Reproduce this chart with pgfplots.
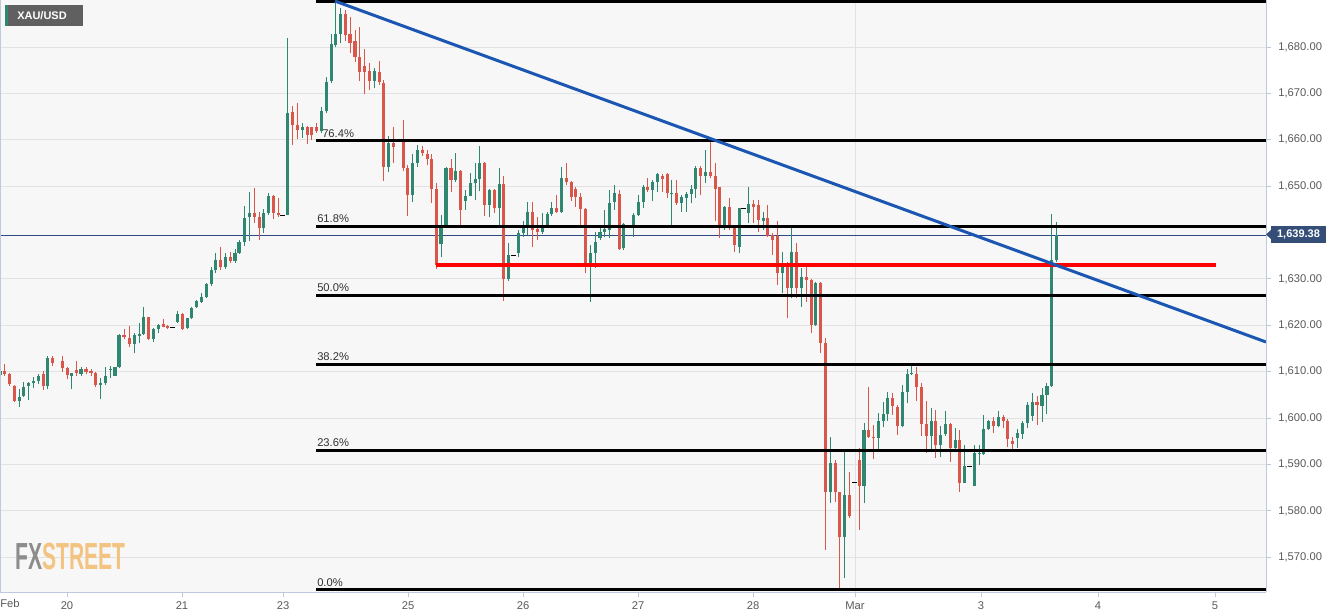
\documentclass[border=0pt]{standalone}
\usepackage{fontspec}
\setmainfont{Liberation Sans}
\usepackage{pgfplots}
\usepackage{pgfplotstable}
\pgfplotsset{compat=1.18}
\definecolor{cg}{RGB}{48,135,113}
\definecolor{cr}{RGB}{217,87,74}
\definecolor{plotbg}{RGB}{247,247,247}
\definecolor{gridc}{RGB}{226,226,226}
\definecolor{axc}{RGB}{190,200,222}
\definecolor{labc}{RGB}{90,90,90}
\definecolor{pricec}{RGB}{45,75,130}
\definecolor{pricebox}{RGB}{52,78,120}
\definecolor{trendc}{RGB}{26,86,178}
\definecolor{fibtext}{RGB}{50,50,50}
\definecolor{titlebox}{RGB}{96,96,96}
\definecolor{wmgray}{RGB}{140,140,140}
\definecolor{wmorange}{RGB}{243,195,130}

\pgfplotstableread{
x o h l c
0.7 1609.3 1611.3 1608.6 1610.2
19.3 1603.7 1606.2 1602.5 1604.6
23.3 1604.8 1607.9 1604.5 1606.8
28.3 1606.9 1607.9 1603.9 1607.5
33.3 1607.5 1608.9 1606.4 1608.0
38.3 1608.0 1609.5 1607.3 1609.2
47.7 1606.9 1613.3 1606.2 1613.0
71.7 1609.2 1609.8 1606.2 1609.7
81.0 1609.5 1611.1 1609.0 1610.5
100.3 1607.2 1608.6 1604.1 1607.5
105.3 1607.5 1611.0 1607.2 1609.2
110.3 1610.4 1611.3 1608.6 1610.5
115.0 1609.2 1611.1 1609.0 1611.0
119.0 1611.0 1618.1 1610.8 1617.9
134.3 1616.0 1618.3 1614.0 1617.9
139.3 1617.8 1620.5 1616.1 1618.1
143.3 1618.2 1623.9 1617.9 1621.8
153.3 1617.1 1619.5 1616.5 1619.2
158.3 1619.2 1620.3 1618.3 1620.1
177.3 1620.8 1623.0 1620.5 1622.5
187.3 1619.5 1621.7 1619.3 1621.5
191.7 1621.5 1624.0 1621.3 1623.8
196.7 1623.9 1625.5 1623.7 1625.3
201.3 1625.1 1626.9 1624.8 1626.2
206.3 1626.2 1629.2 1625.8 1629.0
211.3 1629.0 1632.5 1628.5 1632.0
215.3 1632.0 1635.5 1631.4 1634.0
225.3 1632.5 1635.5 1632.2 1634.8
235.0 1633.9 1636.5 1633.5 1635.6
239.0 1635.6 1638.4 1635.4 1637.9
244.3 1637.9 1645.8 1637.1 1643.2
249.3 1643.3 1648.7 1638.1 1644.3
263.7 1640.9 1645.1 1639.9 1644.2
268.3 1644.2 1648.6 1643.8 1647.8
287.3 1643.7 1681.9 1643.7 1665.7
302.3 1662.1 1663.6 1660.4 1662.8
321.3 1662.0 1667.0 1661.5 1666.2
326.3 1666.2 1673.6 1665.7 1672.5
331.3 1672.7 1682.9 1672.2 1680.6
335.7 1680.4 1689.8 1680.1 1682.9
340.7 1682.9 1688.3 1680.8 1687.1
374.3 1672.7 1675.4 1671.1 1674.9
388.3 1654.2 1660.8 1653.1 1659.4
412.3 1648.0 1657.0 1646.5 1655.0
417.3 1655.0 1658.9 1654.2 1657.8
441.0 1637.5 1643.8 1634.8 1641.0
446.0 1641.3 1654.2 1640.9 1653.9
455.3 1651.3 1657.2 1650.8 1653.3
465.3 1646.8 1649.2 1644.9 1647.9
470.3 1647.9 1652.8 1647.8 1650.6
475.3 1650.6 1655.1 1647.0 1651.5
479.3 1651.5 1658.7 1649.0 1654.9
489.3 1645.9 1649.3 1643.3 1649.2
499.3 1645.2 1653.9 1641.6 1650.4
508.3 1629.9 1637.7 1629.6 1635.2
518.3 1635.5 1640.6 1634.7 1640.0
523.3 1640.0 1642.4 1639.1 1641.6
527.3 1641.6 1646.7 1639.5 1644.5
542.3 1640.2 1644.2 1639.8 1641.6
547.3 1641.6 1644.5 1641.1 1644.0
551.7 1644.0 1646.7 1643.6 1645.4
561.3 1644.5 1654.1 1644.2 1651.7
590.3 1632.7 1637.3 1625.1 1635.5
595.3 1635.5 1640.2 1632.3 1638.0
600.0 1638.8 1641.3 1638.4 1640.2
604.3 1640.2 1644.9 1639.1 1640.7
609.3 1640.6 1649.2 1638.8 1646.3
614.3 1646.7 1650.3 1644.9 1648.5
623.7 1636.6 1642.0 1636.3 1641.9
633.3 1641.6 1644.2 1639.1 1643.9
638.3 1643.9 1648.1 1643.6 1646.5
643.3 1646.5 1650.3 1645.4 1649.8
652.3 1649.2 1651.3 1646.9 1651.0
657.3 1651.0 1652.9 1648.8 1652.6
671.7 1648.3 1651.3 1641.6 1648.6
681.7 1646.3 1648.1 1644.5 1647.6
686.7 1647.5 1648.8 1644.5 1648.3
691.7 1648.3 1650.3 1646.3 1649.3
695.7 1649.3 1654.4 1647.4 1653.9
705.3 1652.2 1657.9 1650.6 1653.1
724.3 1640.9 1645.7 1640.6 1645.6
739.3 1637.0 1645.4 1635.5 1645.2
748.3 1644.3 1649.8 1642.0 1646.2
763.3 1642.6 1644.5 1640.6 1643.1
782.3 1631.2 1635.9 1626.9 1633.4
791.3 1628.0 1641.3 1625.8 1635.9
801.3 1628.0 1632.3 1624.0 1630.4
815.3 1620.1 1629.4 1619.9 1629.1
830.3 1584.0 1595.9 1581.8 1590.4
844.3 1574.5 1592.8 1565.5 1583.5
864.0 1585.3 1598.9 1581.8 1597.4
878.3 1595.7 1601.1 1593.3 1599.3
883.3 1599.3 1603.4 1598.0 1600.9
887.3 1600.9 1605.7 1599.5 1604.3
902.3 1598.3 1607.2 1598.0 1605.7
907.3 1605.7 1610.5 1603.2 1609.5
911.3 1609.5 1611.5 1609.3 1609.8
931.3 1596.2 1602.1 1593.3 1599.3
940.3 1594.2 1598.3 1591.7 1596.4
945.3 1596.6 1601.6 1596.2 1598.8
955.3 1593.5 1597.8 1593.2 1595.3
964.3 1586.1 1594.2 1586.0 1589.6
974.3 1585.3 1594.2 1585.3 1592.4
979.3 1592.3 1594.2 1589.9 1592.5
983.7 1592.3 1600.7 1592.1 1597.6
988.3 1597.6 1599.6 1597.5 1599.3
998.3 1598.3 1601.6 1598.0 1600.3
1017.5 1595.7 1597.6 1593.6 1596.9
1022.4 1596.6 1599.3 1595.6 1598.9
1027.3 1599.0 1603.4 1597.9 1602.8
1032.2 1600.5 1605.5 1599.5 1603.5
1042.0 1602.6 1606.4 1599.2 1605.1
1046.9 1605.1 1607.6 1601.0 1607.0
1051.8 1607.0 1644.0 1606.8 1634.2
1056.2 1634.2 1642.2 1633.6 1639.4
}\greencandles

\pgfplotstableread{
x o h l c
4.3 1610.1 1611.6 1609.1 1609.5
9.3 1609.5 1609.7 1606.9 1607.3
14.3 1607.0 1607.2 1603.4 1603.7
43.3 1609.5 1610.2 1606.1 1606.9
52.3 1613.0 1613.3 1611.3 1612.0
62.3 1612.4 1613.3 1610.0 1610.9
67.3 1610.8 1611.0 1608.4 1609.3
76.7 1610.4 1612.3 1609.0 1609.8
86.0 1610.5 1611.0 1609.5 1610.0
91.0 1610.1 1610.6 1609.0 1609.7
95.7 1609.7 1610.0 1606.8 1607.2
124.0 1617.9 1619.3 1617.0 1617.4
129.3 1617.2 1619.8 1615.4 1616.0
148.3 1621.8 1621.9 1616.9 1617.0
163.3 1620.2 1621.3 1619.6 1619.7
167.7 1619.9 1620.1 1619.3 1619.5
182.3 1622.5 1622.6 1619.0 1619.2
220.3 1634.0 1637.0 1631.9 1632.5
230.3 1634.8 1635.8 1633.5 1633.9
254.3 1644.3 1649.6 1642.0 1643.4
259.3 1643.4 1644.5 1638.4 1640.9
273.3 1647.9 1648.1 1642.9 1644.3
278.3 1644.3 1647.4 1643.3 1643.7
292.3 1665.9 1667.3 1658.9 1663.2
297.3 1663.1 1668.0 1660.2 1662.1
307.3 1662.8 1663.0 1659.2 1661.0
311.7 1662.7 1662.8 1660.0 1661.0
316.7 1662.7 1663.7 1661.5 1662.0
345.7 1687.1 1688.0 1681.2 1682.6
350.0 1682.9 1686.5 1678.6 1680.8
355.0 1681.2 1683.7 1676.8 1677.9
359.3 1677.9 1684.4 1672.7 1674.7
364.3 1675.8 1679.5 1669.8 1674.7
369.3 1674.9 1676.5 1670.7 1672.7
379.3 1674.7 1677.0 1671.8 1672.4
383.3 1672.2 1672.9 1651.1 1654.2
393.3 1659.4 1662.8 1654.9 1658.5
403.3 1659.5 1664.3 1653.3 1654.0
407.7 1654.0 1654.5 1643.5 1648.0
422.3 1657.8 1658.7 1656.6 1657.1
427.3 1656.9 1657.8 1654.5 1655.8
431.7 1655.8 1656.9 1646.3 1649.5
436.3 1649.5 1650.7 1632.2 1633.0
451.0 1653.9 1655.8 1648.8 1651.3
460.3 1653.3 1653.5 1641.6 1644.9
484.3 1655.1 1655.3 1643.6 1645.9
494.3 1649.2 1649.3 1644.2 1645.2
503.3 1650.4 1652.2 1625.3 1629.9
532.3 1644.5 1646.5 1637.0 1640.6
537.3 1640.7 1643.3 1638.3 1640.2
556.7 1645.4 1648.2 1644.2 1644.5
566.3 1651.7 1655.1 1650.3 1651.0
571.3 1651.0 1651.2 1646.9 1647.7
575.3 1649.5 1649.8 1645.6 1647.7
580.3 1647.6 1648.5 1641.6 1645.0
585.3 1645.0 1645.2 1631.4 1632.7
619.3 1648.3 1649.2 1636.3 1636.4
647.3 1649.8 1651.7 1648.8 1649.2
662.3 1652.2 1652.6 1648.8 1651.5
667.3 1652.6 1652.8 1647.4 1648.5
676.7 1648.5 1651.3 1645.9 1646.3
700.3 1653.9 1654.4 1648.1 1652.1
710.3 1653.1 1659.6 1651.7 1652.2
715.3 1652.2 1655.1 1642.6 1649.5
719.3 1649.8 1649.9 1638.8 1640.9
729.3 1645.6 1647.4 1640.6 1641.3
734.3 1641.6 1641.6 1635.9 1637.3
753.3 1646.2 1647.0 1642.0 1645.6
758.3 1645.9 1647.0 1640.2 1642.7
767.3 1643.1 1645.9 1639.1 1639.3
772.3 1639.5 1640.0 1635.2 1638.5
777.3 1639.3 1642.6 1628.7 1631.2
787.3 1633.4 1633.7 1621.5 1628.0
796.3 1635.9 1637.7 1625.8 1628.0
806.3 1630.4 1632.7 1625.1 1629.8
811.3 1629.8 1629.9 1618.3 1620.1
820.3 1629.1 1629.4 1614.1 1616.2
825.3 1616.2 1617.2 1571.6 1584.0
835.3 1590.4 1591.0 1582.0 1584.0
839.3 1584.0 1584.2 1563.4 1574.5
849.3 1583.5 1588.5 1578.4 1579.0
859.3 1591.0 1593.5 1575.9 1585.4
868.7 1597.4 1606.8 1595.7 1595.9
873.3 1595.9 1598.5 1591.2 1595.7
892.3 1604.3 1605.5 1600.7 1602.6
897.3 1602.5 1602.9 1596.4 1598.3
916.3 1609.5 1611.0 1603.6 1606.8
921.3 1606.8 1607.5 1596.2 1598.8
926.3 1598.8 1603.6 1592.4 1596.2
935.3 1599.3 1601.8 1591.4 1594.2
950.3 1598.8 1599.0 1590.6 1593.5
959.3 1595.3 1597.5 1584.2 1586.0
993.3 1599.3 1600.3 1596.9 1598.3
1003.3 1600.3 1600.7 1597.8 1599.5
1007.7 1599.5 1599.8 1593.7 1595.5
1012.6 1595.0 1596.0 1593.0 1594.5
1037.1 1603.5 1604.8 1598.5 1602.8
}\redcandles

\pgfplotsset{candle/.style={only marks, mark=*, mark size=0pt,
  mark options={draw opacity=0, fill opacity=0}, forget plot,
  error bars/.cd, y dir=plus, y explicit, error mark=none}}

\begin{document}
\begin{tikzpicture}
\fill[white] (0pt,-17.25pt) rectangle (998.25pt,444pt);
\begin{axis}[
  at={(0pt,0pt)}, anchor=south west,
  scale only axis, width=949.5pt, height=444pt,
  xmin=0, xmax=1266, ymin=1562.54, ymax=1690.13,
  clip=false,
  axis background/.style={fill=plotbg},
  axis line style={draw=none},
  ymajorgrids, grid style={gridc, line width=0.75pt},
  ytick={1570,1580,1590,1600,1610,1620,1630,1650,1660,1670,1680},
  yticklabels={{1,570.00},{1,580.00},{1,590.00},{1,600.00},{1,610.00},{1,620.00},{1,630.00},{1,650.00},{1,660.00},{1,670.00},{1,680.00}},
  xtick={67,182,283,408,523,638,753,855,981,1098,1215},
  xticklabels={20,21,23,25,26,27,28,Mar,3,4,5},
  xtick pos=left, ytick pos=right,
  tick align=outside,
  major tick length=3.75pt,
  tick style={axc, line width=0.75pt},
  ticklabel style={font=\fontsize{8.4}{10}\selectfont, text=labc},
  yticklabel style={anchor=west, xshift=2pt},
  xticklabel style={anchor=north},
]
% month separator grid line
\draw[gridc, line width=0.75pt] (axis cs:855,1562.54) -- (axis cs:855,1690.13);
% current price line
\addplot[pricec, line width=0.75pt] coordinates {(0,1639.38) (1266,1639.38)};
% wicks
\addplot[candle, error bar style={draw=cg, line width=0.75pt}]
  table[x=x, y=l, y error expr=\thisrow{h}-\thisrow{l}] {\greencandles};
\addplot[candle, error bar style={draw=cr, line width=0.75pt}]
  table[x=x, y=l, y error expr=\thisrow{h}-\thisrow{l}] {\redcandles};
% bodies
\addplot[candle, error bar style={draw=cg, line width=2.5pt}]
  table[x=x, y=o, y error expr={max(\thisrow{c}-\thisrow{o},0.3)}] {\greencandles};
\addplot[candle, error bar style={draw=cr, line width=2.5pt}]
  table[x=x, y=c, y error expr={max(\thisrow{o}-\thisrow{c},0.3)}] {\redcandles};
% flat candles
\addplot[only marks, mark=-, mark size=1.875pt, black, mark options={line width=0.75pt}]
  coordinates {(172.7,1619.6) (282.7,1643.7) (513.3,1635.1) (743.7,1645.2) (854,1586.2) (969,1589.6)};
% Fibonacci levels
\addplot[black, line width=2.25pt] coordinates {(316,1689.7) (1266,1689.7)};
\addplot[black, line width=2.25pt] coordinates {(316,1659.8) (1266,1659.8)};
\addplot[black, line width=2.25pt] coordinates {(316,1641.4) (1266,1641.4)};
\addplot[black, line width=2.25pt] coordinates {(316,1626.5) (1266,1626.5)};
\addplot[black, line width=2.25pt] coordinates {(316,1611.6) (1266,1611.6)};
\addplot[black, line width=2.25pt] coordinates {(316,1593.1) (1266,1593.1)};
\addplot[black, line width=2.25pt] coordinates {(316,1563.0) (1266,1563.0)};
% support line
\addplot[red, line width=3pt] coordinates {(436,1633.0) (1216,1633.0)};
% trend line
\addplot[trendc, line width=2.25pt] coordinates {(335,1689.9) (1266,1616.42)};
% fib labels
\begin{scope}[every node/.style={anchor=base west, inner sep=0pt, text=fibtext, font=\fontsize{8.4}{10}\selectfont, yshift=2.6pt}]
\node at (axis cs:322,1659.8) {76.4\%};
\node at (axis cs:317,1641.4) {61.8\%};
\node at (axis cs:317,1626.5) {50.0\%};
\node at (axis cs:317,1611.6) {38.2\%};
\node at (axis cs:317,1593.1) {23.6\%};
\node at (axis cs:317,1563.0) {0.0\%};
\end{scope}
% axis frame lines
\draw[axc, line width=0.75pt] (rel axis cs:1,0) -- (rel axis cs:1,1);
\draw[axc, line width=0.75pt] (rel axis cs:0,0) -- (rel axis cs:1,0);
\draw[axc, line width=0.75pt] (rel axis cs:0,0) -- (rel axis cs:0,1);
\end{axis}
\begin{scope}[x=0.75pt, y=-0.75pt, shift={(0pt,444pt)}]
% title box
\fill[titlebox] (5,5) rectangle (83,26);
\fill[cg] (5,5) rectangle (8,26);
\node[anchor=west, inner sep=0pt, text=white, font=\fontsize{8.25}{9.9}\selectfont\bfseries] at (17,15.5) {XAU/USD};
% current price tag
\fill[pricebox] (1266,234.5) -- (1271,230) -- (1271,239) -- cycle;
\fill[pricebox] (1271,226) rectangle (1326,243);
\node[text=white, inner sep=0pt, font=\fontsize{8.25}{9.9}\selectfont\bfseries] at (1298.5,234.5) {1,639.38};
% Feb label
\node[anchor=west, inner sep=0pt, text=labc, font=\fontsize{8.4}{10}\selectfont] at (0,603) {Feb};
% watermark
\node[anchor=west, inner sep=0pt, xscale=0.56, font=\fontsize{28.3}{30}\selectfont\bfseries] at (15,556.5) {\textcolor{wmgray}{FX}\textcolor{wmorange}{STREET}};
\end{scope}
\pgfresetboundingbox
\path[use as bounding box] (0pt,-17.25pt) rectangle (998.25pt,444pt);
\end{tikzpicture}
\end{document}
